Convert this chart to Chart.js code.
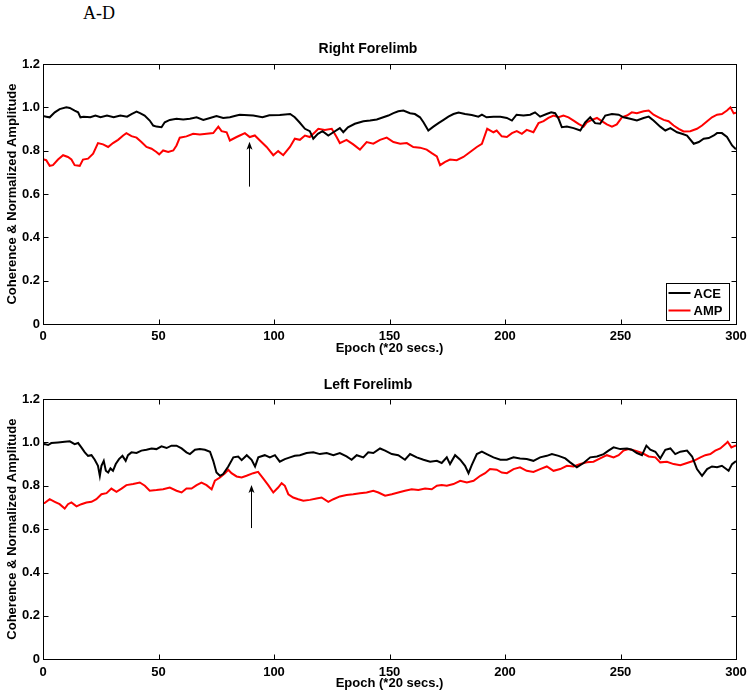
<!DOCTYPE html>
<html>
<head>
<meta charset="utf-8">
<script src="https://cdn.jsdelivr.net/npm/chart.js@4.4.1/dist/chart.umd.min.js"></script>
<style>
  body { margin: 0; background: #fff; }
  #wrap { position: relative; width: 753px; height: 694px; overflow: hidden; }
  #panelTag { position: absolute; left: 83px; top: 3px; font: 18px "Liberation Serif", "DejaVu Serif", serif; color: #000; }
  canvas { position: absolute; left: 0; }
  #rightChart { top: 0; }
  #leftChart { top: 340px; }
</style>
</head>
<body>
<div id="wrap">
  <div id="panelTag">A-D</div>
  <canvas id="rightChart" width="753" height="360"></canvas>
  <canvas id="leftChart" width="753" height="354"></canvas>
</div>
<script>
// series (epoch, value)
const rfAceEpoch = [0, 1.4, 2.9, 5.1, 7.2, 10.1, 11.6, 13.7, 15.2, 16.2, 17.6, 20.5, 22.7, 24.9, 27.7, 30.6, 33.5, 36.4, 38.3, 40.5, 42, 44, 46.2, 47.7, 49.1, 51.3, 52.7, 54.9, 57.8, 60.7, 63.6, 66.5, 69.4, 72.3, 75.1, 78, 80.9, 83.8,
  85.2, 91, 95, 98, 102.5, 107, 109, 111, 113.4, 115.5, 117, 119, 121, 123.5, 125.7, 128.5, 130, 132, 135, 138.7, 141.6, 144.5, 147.3, 149.5, 151.7, 153.8, 156, 158.9, 161, 163.2, 164.7, 166.8, 169, 171.2, 173.4, 175.5, 177.7, 179.9, 182.7, 185.6, 188.5,
  190, 192, 195, 198, 200.8, 203, 205, 208, 210.9, 213, 215.2, 218, 220, 221.7, 223.2, 224.6, 226.8, 229.7, 232.6, 234.7, 236.9, 239, 241.2, 243.4, 246.3, 249.2, 251.3, 254.2, 257.1, 260, 262.2, 264.3, 267.2, 269.4, 271.6, 274.5, 276.6, 278.8, 281.7, 283.9, 286, 288.2, 290.4, 291.8, 293.9, 296.1, 298.3, 299.7, 300];
const rfAceValue = [0.96, 0.957, 0.954, 0.977, 0.992, 1.0, 0.997, 0.985, 0.977, 0.954, 0.957, 0.954, 0.962, 0.954, 0.962, 0.954, 0.962, 0.957, 0.969, 0.98, 0.973, 0.962, 0.939, 0.916, 0.911, 0.908, 0.931, 0.942, 0.947, 0.944, 0.947, 0.954, 0.942, 0.951, 0.96, 0.951, 0.954, 0.962,
  0.966, 0.962, 0.954, 0.963, 0.965, 0.969, 0.954, 0.931, 0.901, 0.89, 0.855, 0.878, 0.89, 0.87, 0.885, 0.904, 0.885, 0.908, 0.924, 0.936, 0.939, 0.944, 0.954, 0.962, 0.973, 0.982, 0.985, 0.973, 0.969, 0.954, 0.931, 0.893, 0.911, 0.927, 0.942, 0.957, 0.969, 0.976, 0.969, 0.965, 0.957,
  0.966, 0.954, 0.957, 0.956, 0.951, 0.939, 0.966, 0.962, 0.966, 0.977, 0.957, 0.969, 0.977, 0.973, 0.947, 0.908, 0.911, 0.904, 0.893, 0.931, 0.954, 0.927, 0.924, 0.962, 0.969, 0.966, 0.954, 0.947, 0.939, 0.951, 0.957, 0.939, 0.911, 0.893, 0.904, 0.885, 0.878, 0.87, 0.832, 0.84, 0.855, 0.858, 0.87, 0.881, 0.881, 0.863, 0.824, 0.809, 0.81];

const rfAmpEpoch = [0, 1.4, 2.9, 4.3, 6.5, 8.7, 10.8, 12.3, 13.7, 15.9, 17.3, 19.5, 21.7, 23.8, 26, 28.2, 30.3, 32.5, 34.7, 36.1, 38.3, 40.5, 42.6, 44.8, 47, 49.1, 50.3, 52, 54.2, 56.4, 57.8, 59.2, 62.1, 65, 67.9, 70.8, 73.7, 75.9, 77.3, 79.5, 80.9, 83.8,
  85.2, 87.4, 89.5, 91.7, 93.9, 96.8, 99.7, 101.8, 104, 106.9, 109, 111.2, 113.4, 115.5, 117.7, 119.2, 122, 125, 127.1, 128.5, 131.4, 134.3, 137.2, 140.1, 143, 145.9, 148.8, 151.7, 154.6, 157.5, 160.3, 163.2, 166.1, 168.3, 170.5, 171.9, 174.1, 176.2, 179.1, 182, 184.9, 187.8,
  190, 192.3, 195, 196.4, 198.6, 200.8, 203, 205.1, 207.3, 209.4, 212.3, 214.5, 216.7, 218.8, 221, 223.2, 225.3, 227.5, 229.7, 231.8, 234, 235.4, 237.6, 239.8, 241.9, 244.1, 246.3, 248.4, 250.6, 252.8, 254.9, 257.1, 260, 262.2, 264.3, 266.5, 268.7, 270.8, 273, 275.2, 277.3, 280.2, 283.1, 285.3, 287.5, 289.6, 291.8, 293.9, 296.1, 297.6, 299, 300];
const rfAmpValue = [0.76, 0.756, 0.73, 0.733, 0.759, 0.779, 0.771, 0.759, 0.733, 0.73, 0.759, 0.763, 0.786, 0.835, 0.829, 0.817, 0.835, 0.85, 0.87, 0.881, 0.867, 0.86, 0.84, 0.817, 0.809, 0.794, 0.783, 0.801, 0.794, 0.801, 0.824, 0.86, 0.866, 0.878, 0.875, 0.878, 0.881, 0.911, 0.89, 0.885, 0.847, 0.863,
  0.87, 0.881, 0.863, 0.87, 0.847, 0.817, 0.779, 0.798, 0.779, 0.817, 0.855, 0.85, 0.87, 0.863, 0.885, 0.901, 0.896, 0.901, 0.863, 0.835, 0.85, 0.829, 0.805, 0.84, 0.832, 0.85, 0.86, 0.84, 0.832, 0.835, 0.817, 0.814, 0.805, 0.789, 0.774, 0.733, 0.748, 0.759, 0.756, 0.771, 0.794, 0.817,
  0.832, 0.901, 0.885, 0.893, 0.866, 0.863, 0.881, 0.89, 0.878, 0.896, 0.885, 0.927, 0.936, 0.951, 0.962, 0.954, 0.962, 0.954, 0.939, 0.924, 0.911, 0.931, 0.942, 0.951, 0.936, 0.921, 0.911, 0.921, 0.954, 0.962, 0.977, 0.973, 0.982, 0.985, 0.966, 0.954, 0.942, 0.936, 0.916, 0.901, 0.889, 0.89, 0.901, 0.916, 0.936, 0.954, 0.966, 0.969, 0.985, 1.0, 0.972, 0.975];

const lfAceEpoch = [0, 0.7, 2.2, 3.6, 6.5, 9.4, 11.6, 13.7, 15.2, 16.6, 18.1, 19.5, 21, 22.4, 23.8, 24.6, 25.3, 26.3, 27.2, 28.2, 29.2, 30.3, 31.5, 32.9, 34.4, 35.8, 36.8, 38.3, 40.5, 42.6, 44.8, 47, 49.1, 51.3, 53.5, 55.6, 57.8, 60, 62.1, 63.6, 65.8, 67.9, 70.1, 72.3, 73.7, 75.1, 76.6, 78, 80.2, 82.4, 84.5, 86, 88.2, 90.3, 91.8, 93.2,
  96, 98.2, 100.4, 102.5, 104.7, 106.9, 109, 111.2, 114.1, 117, 119.9, 122.8, 125.7, 128.5, 131.4, 133.6, 135.8, 138.7, 140.8, 143, 145.9, 148.1, 151, 153.8, 156.7, 158.9, 161.8, 164.7, 167.6, 170.5, 172.6, 174.8, 176.2, 178.4, 180.6, 182.7, 184.2, 185.6, 187.8, 190, 192.1, 195, 198,
  200.8, 203.7, 206.5, 209.4, 212.3, 215.2, 218.1, 220.3, 223.2, 226.1, 228.2, 231.1, 234, 236.9, 239.8, 242.7, 244.8, 247, 249.9, 252.8, 254.9, 257.1, 259.3, 261.2, 262.9, 265.1, 267.2, 269.4, 271.6, 273.7, 275.9, 278.8, 281, 283.1, 285.3, 287.5, 289.6, 291.8, 293.9, 296.8, 298.3, 299.7, 300];
const lfAceValue = [0.99, 0.992, 0.988, 0.997, 1.0, 1.003, 1.005, 0.992, 0.997, 0.977, 0.954, 0.938, 0.941, 0.92, 0.892, 0.846, 0.892, 0.915, 0.869, 0.861, 0.88, 0.869, 0.9, 0.923, 0.938, 0.915, 0.941, 0.954, 0.951, 0.962, 0.966, 0.972, 0.969, 0.982, 0.974, 0.985, 0.985, 0.972, 0.954, 0.946, 0.966, 0.969, 0.966, 0.957, 0.915, 0.861, 0.846, 0.854, 0.889, 0.931, 0.935, 0.918, 0.941, 0.92, 0.889, 0.931,
  0.941, 0.931, 0.941, 0.911, 0.923, 0.931, 0.938, 0.941, 0.951, 0.954, 0.946, 0.951, 0.941, 0.951, 0.935, 0.92, 0.941, 0.931, 0.954, 0.951, 0.972, 0.962, 0.946, 0.941, 0.92, 0.946, 0.931, 0.92, 0.911, 0.915, 0.905, 0.931, 0.9, 0.941, 0.92, 0.892, 0.858, 0.895, 0.946, 0.957, 0.946, 0.931, 0.92,
  0.92, 0.931, 0.926, 0.923, 0.915, 0.931, 0.938, 0.946, 0.938, 0.926, 0.908, 0.885, 0.905, 0.931, 0.935, 0.946, 0.962, 0.977, 0.969, 0.972, 0.966, 0.951, 0.941, 0.985, 0.966, 0.957, 0.926, 0.966, 0.972, 0.946, 0.957, 0.962, 0.935, 0.877, 0.846, 0.877, 0.889, 0.885, 0.892, 0.869, 0.9, 0.911, 0.91];

const lfAmpEpoch = [0, 0.7, 2.9, 5.1, 7.2, 9.4, 10.8, 12.3, 14.5, 16.6, 18.8, 21, 23.1, 25.3, 27.5, 29.6, 31.8, 34, 36.1, 39, 41.9, 44.1, 46.2, 49.1, 52, 54.9, 57.8, 60, 62.1, 64.3, 66.5, 68.6, 70.8, 73, 74.4, 76.6, 78.8, 80.2, 81.6, 83.8, 86, 88.1, 91, 93.1, 95.3, 97.5, 99.7, 101.8, 103.3, 104.7, 106.2, 108.3, 110.5, 112.7, 115.5, 118.4, 120.6, 123.5, 125.7, 128.5, 131.4, 134.3, 137.2, 140.1, 143, 145.2, 148.1, 151, 153.8, 156.7, 159.6, 162.5, 165.4, 168.3, 170.5, 172.6, 174.8, 177.7, 180.6, 183.5, 186.4, 189.3,
  191.4, 193.5, 196.4, 198.6, 200.8, 203.7, 206.5, 209.4, 212.3, 215.2, 218.1, 221, 223.9, 226.8, 229.7, 232.6, 235.4, 238.3, 241.2, 244.1, 247, 249.2, 251.3, 253.5, 256.4, 259.3, 262.2, 265.1, 267.2, 270.1, 273, 275.9, 278.8, 281.7, 284.6, 286.7, 288.9, 291, 293.2, 295.4, 296.4, 298, 299.7, 300];
const lfAmpValue = [0.72, 0.72, 0.738, 0.726, 0.715, 0.695, 0.715, 0.723, 0.705, 0.715, 0.723, 0.726, 0.738, 0.761, 0.766, 0.787, 0.772, 0.787, 0.803, 0.808, 0.815, 0.8, 0.777, 0.78, 0.784, 0.792, 0.777, 0.769, 0.787, 0.787, 0.803, 0.815, 0.803, 0.784, 0.823, 0.838, 0.858, 0.874, 0.858, 0.843, 0.838, 0.846, 0.858, 0.864, 0.834, 0.803, 0.769, 0.792, 0.812, 0.8, 0.761, 0.746, 0.738, 0.731, 0.735, 0.741, 0.746, 0.726, 0.738, 0.751, 0.757, 0.761, 0.766, 0.769, 0.777, 0.769, 0.754, 0.761, 0.769, 0.777, 0.784, 0.781, 0.787, 0.784, 0.8, 0.803, 0.8, 0.808, 0.823, 0.815, 0.823, 0.846,
  0.858, 0.877, 0.874, 0.861, 0.858, 0.877, 0.885, 0.869, 0.864, 0.877, 0.889, 0.869, 0.877, 0.892, 0.889, 0.9, 0.908, 0.911, 0.926, 0.941, 0.931, 0.941, 0.962, 0.969, 0.962, 0.951, 0.935, 0.931, 0.908, 0.911, 0.9, 0.895, 0.905, 0.915, 0.931, 0.941, 0.946, 0.962, 0.972, 0.992, 1.003, 0.977, 0.985, 0.985];

const seriesNames = ['ACE', 'AMP'];
const seriesColors = ['#000000', '#ff0000'];
const xTickValues = [0, 50, 100, 150, 200, 250, 300];
const yTickValues = [0, 0.2, 0.4, 0.6, 0.8, 1, 1.2];
// arrow annotations: [epoch, tail value, tip value]
const rfArrow = [89.3, 0.634, 0.841];
const lfArrow = [89.9, 0.605, 0.804];

const FONT = '"Liberation Sans", Arial, sans-serif';

function pairs(xs, ys) {
  return xs.map((x, i) => ({ x: x, y: ys[i] }));
}

// MATLAB style box, inward ticks, arrow and legend
const matlabAxes = {
  id: 'matlabAxes',
  afterDatasetsDraw(chart, args, opts) {
    const ctx = chart.ctx;
    const a = chart.chartArea;
    const xs = chart.scales.x, ys = chart.scales.y;
    const L = Math.round(a.left) + 0.5, R = Math.round(a.right) + 0.5;
    const T = Math.round(a.top) + 0.5, B = Math.round(a.bottom) + 0.5;
    ctx.save();
    ctx.strokeStyle = '#000';
    ctx.lineWidth = 1;
    ctx.strokeRect(L, T, R - L, B - T);
    ctx.beginPath();
    xTickValues.forEach(v => {
      const px = Math.round(xs.getPixelForValue(v)) + 0.5;
      ctx.moveTo(px, B); ctx.lineTo(px, B - 5);
      ctx.moveTo(px, T); ctx.lineTo(px, T + 5);
    });
    yTickValues.forEach(v => {
      const py = Math.round(ys.getPixelForValue(v)) + 0.5;
      ctx.moveTo(L, py); ctx.lineTo(L + 5, py);
      ctx.moveTo(R, py); ctx.lineTo(R - 5, py);
    });
    ctx.stroke();

    // arrow
    if (opts.arrow) {
      const ax = Math.round(xs.getPixelForValue(opts.arrow[0])) + 0.5;
      const y0 = ys.getPixelForValue(opts.arrow[1]);
      const y1 = ys.getPixelForValue(opts.arrow[2]);
      ctx.lineWidth = 1;
      ctx.beginPath();
      ctx.moveTo(ax, y0); ctx.lineTo(ax, y1 + 2);
      ctx.stroke();
      ctx.fillStyle = '#000';
      ctx.beginPath();
      ctx.moveTo(ax, y1);
      ctx.lineTo(ax - 3, y1 + 8);
      ctx.lineTo(ax, y1 + 6);
      ctx.lineTo(ax + 3, y1 + 8);
      ctx.closePath();
      ctx.fill();
    }

    // legend box
    if (opts.legend) {
      const bx = R - 71, by = B - 42, bw = 63, bh = 37;
      ctx.fillStyle = '#fff';
      ctx.fillRect(bx, by, bw, bh);
      ctx.strokeRect(Math.round(bx) + 0.5, Math.round(by) + 0.5, bw, bh);
      ctx.font = 'bold 13px ' + FONT;
      ctx.textBaseline = 'middle';
      chart.data.datasets.forEach((ds, i) => {
        const ly = by + 10.5 + i * 17.5;
        ctx.strokeStyle = ds.borderColor;
        ctx.lineWidth = 2;
        ctx.beginPath();
        ctx.moveTo(bx + 3, ly); ctx.lineTo(bx + 25, ly);
        ctx.stroke();
        ctx.fillStyle = '#000';
        ctx.fillText(ds.label, bx + 28, ly + 1);
      });
    }
    ctx.restore();
  }
};

function makeChart(id, title, aceX, aceY, ampX, ampY, arrow, showLegend, titlePad, xAxisHeight, xTitlePad) {
  return new Chart(document.getElementById(id), {
    type: 'line',
    data: {
      datasets: [
        { label: seriesNames[0], data: pairs(aceX, aceY), borderColor: seriesColors[0], borderWidth: 2, pointRadius: 0, tension: 0 },
        { label: seriesNames[1], data: pairs(ampX, ampY), borderColor: seriesColors[1], borderWidth: 2, pointRadius: 0, tension: 0 }
      ]
    },
    options: {
      responsive: false,
      animation: false,
      layout: { padding: { left: 0, right: 17, top: 0, bottom: 0 } },
      plugins: {
        legend: { display: false },
        tooltip: { enabled: false },
        title: {
          display: true,
          text: title,
          color: '#000',
          font: { family: FONT, size: 14, weight: 'bold' },
          padding: titlePad
        },
        matlabAxes: { arrow: arrow, legend: showLegend }
      },
      scales: {
        x: {
          type: 'linear',
          min: 0, max: 300,
          afterFit: s => { s.height = xAxisHeight; },
          afterBuildTicks: s => { s.ticks = xTickValues.map(v => ({ value: v })); },
          grid: { display: false, drawTicks: false },
          border: { display: false },
          ticks: { color: '#000', padding: 5, maxRotation: 0, font: { family: FONT, size: 13, weight: 'bold' } },
          title: { display: true, text: 'Epoch (*20 secs.)', color: '#000', padding: { top: 0, bottom: xTitlePad }, font: { family: FONT, size: 13, weight: 'bold' } }
        },
        y: {
          min: 0, max: 1.2,
          afterFit: s => { s.width = 43; },
          afterBuildTicks: s => { s.ticks = yTickValues.map(v => ({ value: v })); },
          grid: { display: false, drawTicks: false },
          border: { display: false },
          ticks: { color: '#000', padding: 3, font: { family: FONT, size: 13, weight: 'bold' } },
          title: { display: true, text: 'Coherence & Normalized Amplitude', color: '#000', padding: { top: 4.2, bottom: 0 }, font: { family: FONT, size: 13, weight: 'bold' } }
        }
      }
    },
    plugins: [matlabAxes]
  });
}

makeChart('rightChart', 'Right Forelimb', rfAceEpoch, rfAceValue, rfAmpEpoch, rfAmpValue, rfArrow, true,
  { top: 40.6, bottom: 6.6 }, 36, 4.2);
makeChart('leftChart', 'Left Forelimb', lfAceEpoch, lfAceValue, lfAmpEpoch, lfAmpValue, lfArrow, false,
  { top: 36.6, bottom: 5.6 }, 34.7, 3.2);
</script>
</body>
</html>
